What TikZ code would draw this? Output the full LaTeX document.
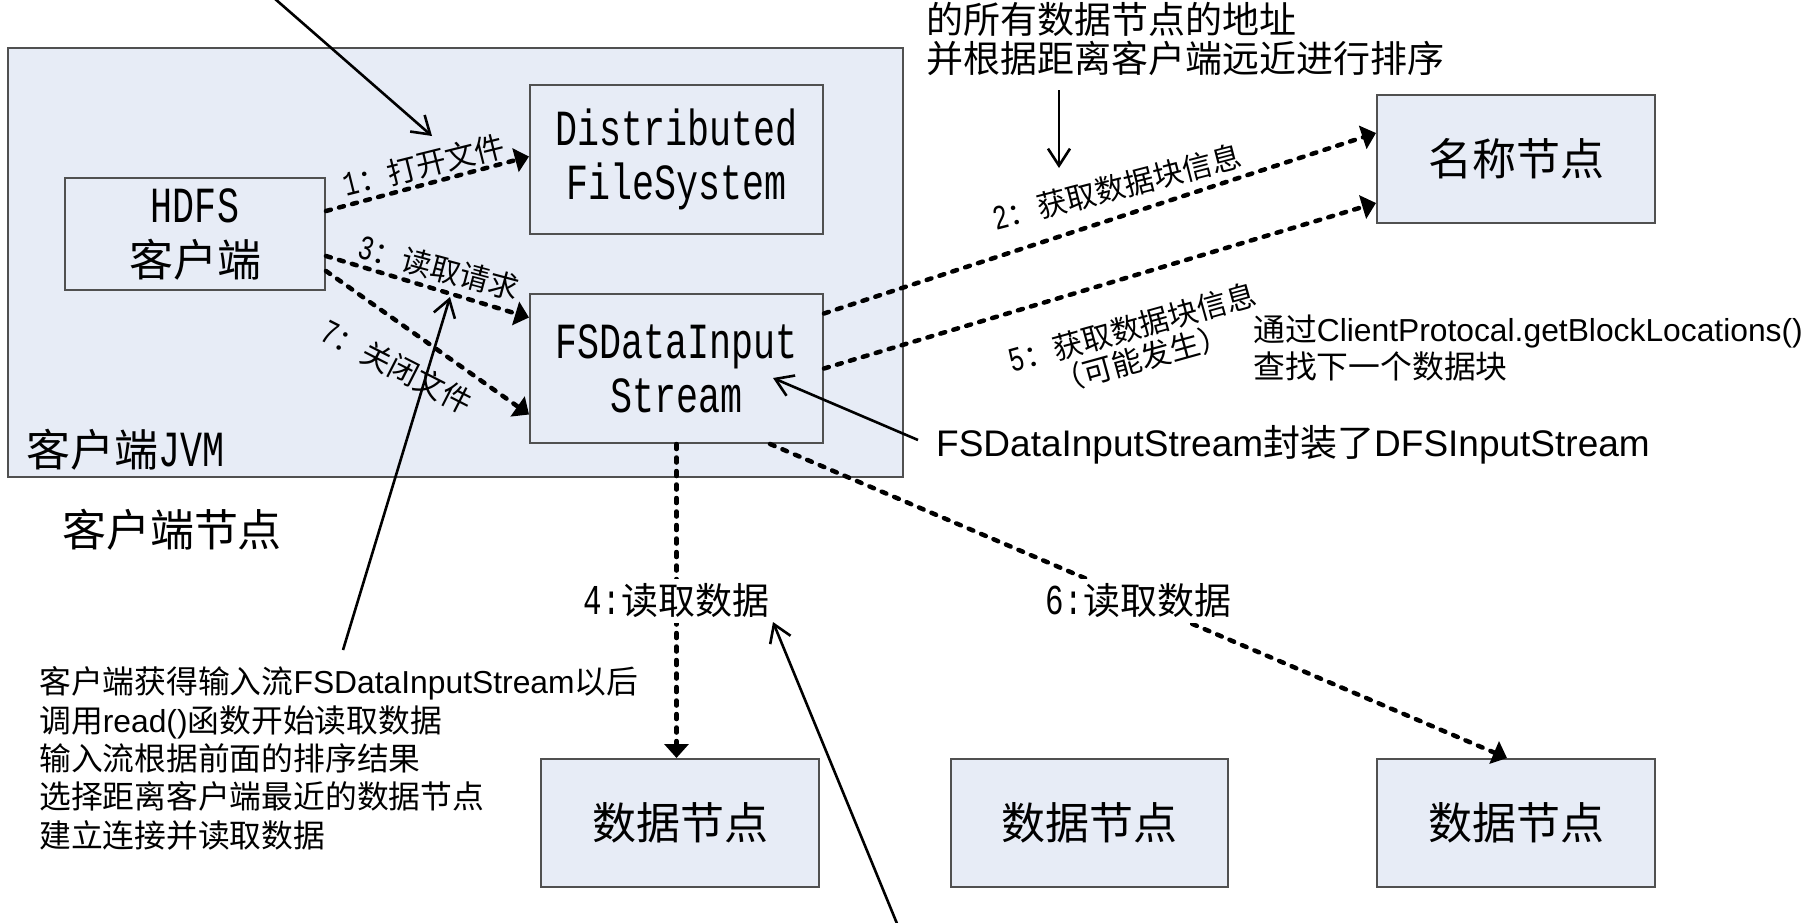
\documentclass[tikz,border=0pt]{standalone}
\usepackage{fontspec}
\setmainfont{Noto Sans CJK SC}
\newfontfamily\latf{Liberation Sans}
\newfontfamily\monf[Scale=1.15,FakeStretch=0.725]{Liberation Mono}
\newcommand\lx[1]{{\latf #1}}
\newcommand\mx[1]{{\monf #1}}
\usetikzlibrary{arrows.meta}
\definecolor{boxfill}{RGB}{231,236,246}
\definecolor{boxline}{RGB}{80,80,80}
\begin{document}
\begin{tikzpicture}[x=1pt,y=-1pt,
  box/.style={draw=boxline, fill=boxfill, line width=2pt, inner sep=0pt, align=center, font=\fontsize{44}{54}\selectfont},
  dotarrow/.style={line width=4.5pt, dash pattern=on 5pt off 8.5pt, line cap=round, -{Triangle[length=14pt,width=24pt]}},
  thinarrow/.style={line width=2.6pt, -{Straight Barb[length=17pt,width=22pt]}},
  lab/.style={inner sep=0pt, align=center, font=\fontsize{30}{32}\selectfont},
  midlab/.style={fill=white, inner sep=5pt, font=\fontsize{37}{37}\selectfont},
  note/.style={inner sep=0pt, align=left, anchor=west},
]
\useasboundingbox (0,0) rectangle (1808,922);
\fill[white] (0,0) rectangle (1808,922);

% containers and boxes
\node[box, minimum width=895pt, minimum height=429pt] (jvm) at (455.5,262.5) {};
\node[anchor=west, inner sep=0pt, font=\fontsize{44}{44}\selectfont] (jvmlab) at (26,450) {客户端\mx{JVM}};
\node[inner sep=0pt, font=\fontsize{44}{44}\selectfont] (clientnode) at (172,530) {客户端节点};
\node[box, minimum width=260pt, minimum height=112pt] (hdfs) at (195,234) {\mx{HDFS}\\客户端};
\node[box, minimum width=293pt, minimum height=149pt] (dist) at (676.5,159.5) {\mx{Distributed}\\\mx{FileSystem}};
\node[box, minimum width=293pt, minimum height=149pt] (fsd) at (676.5,368.5) {\mx{FSDataInput}\\\mx{Stream}};
\node[box, minimum width=278pt, minimum height=128pt] (name) at (1516,159) {名称节点};
\node[box, minimum width=278pt, minimum height=128pt] (dn1) at (680,823) {数据节点};
\node[box, minimum width=277pt, minimum height=128pt] (dn2) at (1089.5,823) {数据节点};
\node[box, minimum width=278pt, minimum height=128pt] (dn3) at (1516,823) {数据节点};

% notes
\node[note, font=\fontsize{37}{38.3}\selectfont] (toptext) at (926,39) {的所有数据节点的地址\\并根据距离客户端远近进行排序};
\node[note, font=\fontsize{31.8}{36.5}\selectfont] (gbl) at (1253,348) {通过\lx{ClientProtocal.getBlockLocations()}\\查找下一个数据块};
\node[note, font=\fontsize{37}{37}\selectfont] (wrap) at (936,445) {\lx{FSDataInputStream}封装了\lx{DFSInputStream}};
\node[note, font=\fontsize{31.8}{38.4}\selectfont] (readnote) at (39,758.4) {客户端获得输入流\lx{FSDataInputStream}以后\\调用\lx{read()}函数开始读取数据\\输入流根据前面的排序结果\\选择距离客户端最近的数据节点\\建立连接并读取数据};

% rotated labels
\node[lab, rotate=14] (l1) at (424,165) {\mx{1}：打开文件};
\node[lab, rotate=-15] (l3) at (439,268) {\mx{3}：读取请求};
\node[lab, rotate=-27] (l7) at (397,367) {\mx{7}：关闭文件};
\node[lab, rotate=14.5] (l2) at (1117,187) {\mx{2}：获取数据块信息};
\node[lab, rotate=15.5] (l5) at (1137,343) {\mx{5}：获取数据块信息\\（可能发生）};

% dotted connectors
\draw[dotarrow] ([yshift=23pt]hdfs.east) -- ([yshift=3pt]dist.west);
\draw[dotarrow] ([yshift=-22pt]hdfs.east) -- ([yshift=51pt]fsd.west);
\draw[dotarrow] ([yshift=-37pt]hdfs.east) -- ([yshift=-46pt]fsd.west);
\draw[dotarrow] ([yshift=55pt]fsd.east) -- ([yshift=26pt]name.west);
\draw[dotarrow] (fsd.east) -- ([yshift=-44pt]name.west);
\draw[dotarrow] (fsd.south) -- node[midlab] (l4) {\mx{4:}读取数据} (fsd.south |- dn1.north);
\draw[dotarrow] ([xshift=93.5pt]fsd.south) -- node[midlab] (l6) {\mx{6:}读取数据} ([xshift=-9pt]dn3.north);

% thin annotation arrows
\coordinate (a1s) at (274,-2);
\coordinate (a1e) at (432,136);
\coordinate (a2s) at (1059,90);
\coordinate (a2e) at (1059,168);
\coordinate (a3s) at (343,650);
\coordinate (a3e) at (450,297);
\coordinate (a4s) at (898,926);
\coordinate (a4e) at (773,622);
\coordinate (a5s) at (918,440);
\coordinate (a5e) at (773,378);
\draw[thinarrow] (a1s) -- (a1e);
\draw[thinarrow] (a2s) -- (a2e);
\draw[thinarrow] (a3s) -- (a3e);
\draw[thinarrow] (a4s) -- (a4e);
\draw[thinarrow] (a5s) -- (a5e);
\end{tikzpicture}
\end{document}
